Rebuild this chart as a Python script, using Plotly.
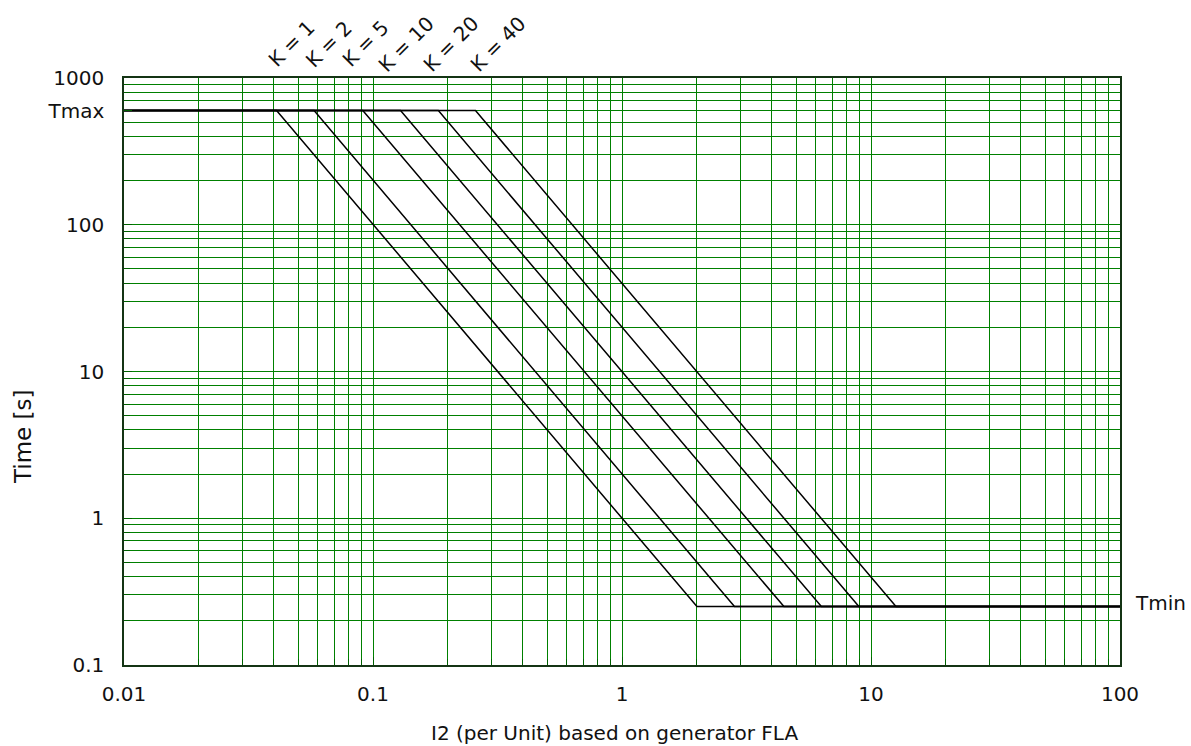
import math
import plotly.graph_objects as go

# ---- data ----
K_values = [1, 2, 5, 10, 20, 40]
K_labels = ["K = 1", "K = 2", "K = 5", "K = 10", "K = 20", "K = 40"]
I2_at_Tmax = [0.041, 0.058, 0.091, 0.129, 0.183, 0.258]   # where each curve leaves Tmax
I2_at_Tmin = [2.0, 2.83, 4.47, 6.32, 8.94, 12.6]          # where each curve reaches Tmin
T_MAX = 600
T_MIN = 0.25
I2_range = [0.01, 100]
label_x = [0.0469, 0.0665, 0.0929, 0.136, 0.2056, 0.318]  # K label centres (x)

x_ticks = [0.01, 0.1, 1, 10, 100]
x_ticktext = ["0.01", "0.1", "1", "10", "100"]
y_ticks = [0.1, 1, 10, 100, T_MAX, 1000]
y_ticktext = ["0.1", "1", "10", "100", "Tmax", "1000"]

FONT = "DejaVu Sans"
GRID = "#008000"
BORDER = "#143414"
TXT = "#111111"

fig = go.Figure()
for k, xs, xe in zip(K_values, I2_at_Tmax, I2_at_Tmin):
    fig.add_trace(go.Scatter(
        x=[I2_range[0], xs, xe, I2_range[1]],
        y=[T_MAX, T_MAX, T_MIN, T_MIN],
        mode="lines", line=dict(color="black", width=1.5),
        name=f"K = {k}", showlegend=False, hoverinfo="x+y+name"))

minor_x = [m * 10 ** e for e in range(-2, 2) for m in range(2, 10)]
minor_y = [m * 10 ** e for e in range(-1, 3) for m in range(2, 10)]

common = dict(
    type="log",
    showgrid=True, gridcolor=GRID, gridwidth=1,
    ticks="inside", ticklen=8, tickcolor="#006000",
    showline=True, linecolor=BORDER, linewidth=1.5, mirror=True,
    tickfont=dict(family=FONT, size=20, color=TXT),
    zeroline=False)

fig.update_xaxes(
    range=[-2, 2], tickvals=x_ticks, ticktext=x_ticktext,
    minor=dict(tickvals=minor_x, showgrid=True, gridcolor=GRID, gridwidth=1,
               ticks="inside", ticklen=6, tickcolor="#006000"),
    ticklabelstandoff=10, **common)
fig.update_yaxes(
    range=[-1, 3], tickvals=y_ticks, ticktext=y_ticktext,
    minor=dict(tickvals=minor_y, showgrid=True, gridcolor=GRID, gridwidth=1,
               ticks="inside", ticklen=6, tickcolor="#006000"),
    ticklabelstandoff=14, **common)

annotations = []
for lx, txt in zip(label_x, K_labels):
    annotations.append(dict(
        x=math.log10(lx), y=1.058, xref="x", yref="paper",
        text=txt, showarrow=False, textangle=-45,
        xanchor="center", yanchor="middle",
        font=dict(family=FONT, size=20, color=TXT)))
annotations.append(dict(
    x=1.013, y=math.log10(T_MIN), xref="paper", yref="y", yshift=4,
    text="Tmin", showarrow=False, xanchor="left", yanchor="middle",
    font=dict(family=FONT, size=20, color=TXT)))
annotations.append(dict(
    x=-0.1014, y=0.3884, xref="paper", yref="paper",
    text="Time [s]", showarrow=False, textangle=-90,
    xanchor="center", yanchor="middle",
    font=dict(family=FONT, size=23, color=TXT)))
annotations.append(dict(
    x=0.492, y=-0.1158, xref="paper", yref="paper",
    text="I2 (per Unit) based on generator FLA", showarrow=False,
    xanchor="center", yanchor="middle",
    font=dict(family=FONT, size=20, color=TXT)))

fig.update_layout(
    width=1191, height=746,
    margin=dict(l=124, r=71, t=78, b=81),
    paper_bgcolor="white", plot_bgcolor="white",
    annotations=annotations, showlegend=False)

fig.write_html("out.html",
               config={"displayModeBar": False},
               post_script="document.body.style.margin='0';document.body.style.overflow='hidden';")
